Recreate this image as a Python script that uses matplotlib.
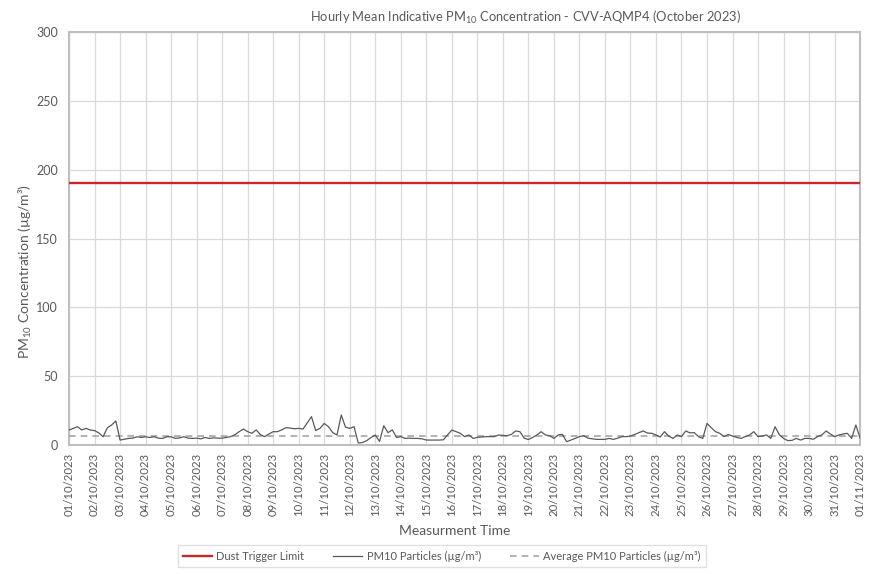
import numpy as np
import pandas as pd
import matplotlib as mpl
mpl.use('Agg')
import matplotlib.pyplot as plt
import matplotlib.dates as mdates

# 4-hourly readings of PM10 (ug/m3), 6 per day
pm10 = [
    10.9, 12.1, 13.3, 10.9, 12.1, 10.9,   # 01/10
    10.5, 8.8, 6.0, 12.5, 14.5, 17.5,     # 02/10
    3.6, 4.2, 4.8, 5.0, 6.0, 5.5,         # 03/10
    6.0, 5.5, 6.0, 5.0, 4.8, 6.0,         # 04/10
    6.0, 4.8, 5.2, 6.0, 5.0, 4.8,         # 05/10
    5.0, 4.5, 5.5, 4.8, 5.2, 5.0,         # 06/10
    5.0, 5.5, 6.1, 7.5, 9.7, 11.6,        # 07/10
    9.7, 8.5, 11.0, 7.5, 6.1, 8.0,        # 08/10
    9.7, 9.7, 11.0, 12.6, 12.3, 11.8,     # 09/10
    12.1, 11.6, 16.0, 20.6, 10.5, 12.1,   # 10/10
    15.7, 13.3, 9.0, 7.3, 21.8, 13.0,     # 11/10
    12.1, 13.3, 1.5, 1.8, 3.2, 5.5,       # 12/10
    7.3, 2.6, 14.0, 9.0, 11.0, 5.5,       # 13/10
    6.1, 4.8, 5.0, 4.8, 4.8, 4.5,         # 14/10
    3.6, 3.6, 3.6, 3.6, 3.8, 7.3,         # 15/10
    10.9, 9.7, 8.5, 6.1, 7.3, 4.8,        # 16/10
    5.6, 5.8, 6.1, 6.1, 6.1, 7.3,         # 17/10
    7.0, 6.8, 7.7, 10.2, 9.7, 5.0,        # 18/10
    4.0, 5.5, 7.3, 9.7, 7.3, 6.8,         # 19/10
    4.8, 7.3, 7.7, 2.4, 3.6, 4.8,         # 20/10
    6.1, 6.8, 5.0, 4.5, 4.1, 4.1,         # 21/10
    4.1, 4.8, 4.1, 5.0, 6.1, 6.1,         # 22/10
    6.5, 7.7, 9.0, 10.2, 8.7, 8.5,        # 23/10
    7.3, 5.8, 9.7, 6.5, 4.8, 7.3,         # 24/10
    6.1, 10.2, 8.8, 9.0, 6.1, 4.8,        # 25/10
    15.7, 12.6, 9.7, 8.5, 6.1, 7.7,       # 26/10
    6.5, 5.5, 4.8, 6.1, 7.3, 9.7,         # 27/10
    6.1, 6.5, 7.3, 4.8, 13.3, 7.5,        # 28/10
    4.8, 3.2, 3.4, 4.8, 3.6, 4.8,         # 29/10
    4.8, 4.2, 6.1, 7.3, 10.2, 8.0,        # 30/10
    6.1, 7.3, 8.0, 8.5, 4.8, 14.5,        # 31/10
    5.0,                                  # 01/11
]
trigger_limit = 190
avg_pm10 = 6.7
start = '2023-10-01'
end = '2023-11-01'

plt.rcParams['font.family'] = ['Lato', 'DejaVu Sans']
plt.rcParams['mathtext.default'] = 'regular'
grey = '#595959'

times = pd.date_range(start, periods=len(pm10), freq='4h')
days = pd.date_range(start, end, freq='D')

fig = plt.figure(figsize=(8.75, 5.74), dpi=100)
ax = fig.add_axes([0.0789, 0.2247, 0.9041, 0.7195])

ax.plot([times[0], times[-1]], [trigger_limit, trigger_limit], color='#C8282A', lw=1.7,
        label='Dust Trigger Limit', zorder=3)
ax.plot(times, pm10, color=grey, lw=0.9, label='PM10 Particles (µg/m³)', zorder=4)
ax.plot([times[0], times[-1]], [avg_pm10, avg_pm10], color='#A6A6A6', lw=1.2,
        ls=(0, (4, 3)), label='Average PM10 Particles (µg/m³)', zorder=3)

ax.set_xlim(pd.Timestamp(start), pd.Timestamp(end))
ax.set_ylim(0, 300)
ax.set_yticks(np.arange(0, 301, 50))
ax.set_xticks(days)
ax.xaxis.set_major_formatter(mdates.DateFormatter('%d/%m/%Y'))
ax.tick_params(axis='x', rotation=90, length=0, labelsize=8.2, colors=grey, pad=6)
ax.tick_params(axis='y', length=0, labelsize=9, colors=grey, pad=8)
ax.grid(True, color='#D9D9D9', lw=0.9)
ax.set_axisbelow(True)
for s in ax.spines.values():
    s.set_color('#BFBFBF')
    s.set_linewidth(1.5)

ax.set_ylabel('PM$_{10}$ Concentration (µg/m³)', fontsize=10, color=grey)
ax.yaxis.set_label_coords(-0.044, 0.42)
fig.text(0.52, 0.075, 'Measurment Time', ha='center', va='center', fontsize=10, color=grey)
fig.text(0.601, 0.97, 'Hourly Mean Indicative PM$_{10}$ Concentration - CVV-AQMP4 (October 2023)',
         ha='center', va='center', fontsize=9.3, color=grey)

leg = fig.legend(loc='center', bbox_to_anchor=(0.505, 0.031), ncol=3, fontsize=8,
                 frameon=True, fancybox=False, handlelength=2.6, handletextpad=0.4,
                 columnspacing=2.6, borderpad=0.5, labelcolor=grey)
leg.get_frame().set_edgecolor('#D9D9D9')

plt.savefig('out.png', dpi=100)
